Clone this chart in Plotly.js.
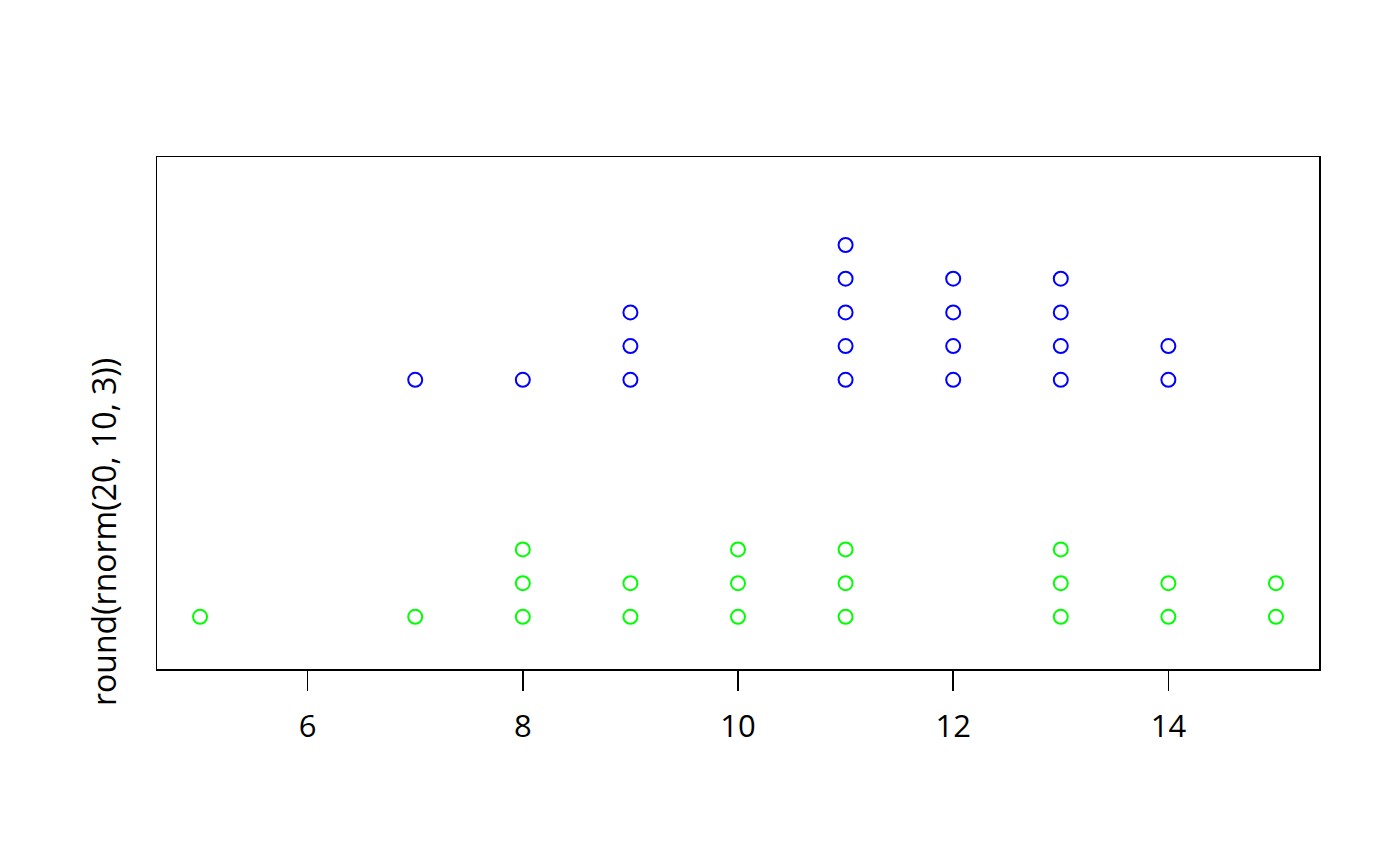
<!DOCTYPE html>
<html>
<head>
<meta charset="utf-8">
<script src="https://cdn.plot.ly/plotly-3.0.1.min.js"></script>
<style>html,body{margin:0;padding:0;background:#fff;}#chart{width:1400px;height:866px;}</style>
</head>
<body>
<div id="chart"></div>
<script>
// Values of each group (stripchart, method = "stack")
const group1Values = [5, 7, 8, 8, 8, 9, 9, 10, 10, 10, 11, 11, 11, 13, 13, 13, 14, 14, 15, 15];
const group2Values = [7, 8, 9, 9, 9, 11, 11, 11, 11, 11, 12, 12, 12, 12, 13, 13, 13, 13, 14, 14];
const groupPositions = [1, 2];
const groupColors = ['#00ff00', '#0000ff'];
const xTicks = [6, 8, 10, 12, 14];
const yLabel = 'round(rnorm(20, 10, 3))';

const stackOffset = 0.1422;

function stack(values, base) {
  const counts = {};
  const ys = [];
  values.forEach(v => {
    const k = counts[v] || 0;
    counts[v] = k + 1;
    ys.push(base + k * stackOffset);
  });
  return ys;
}

const groups = [group1Values, group2Values];
const traces = groups.map((vals, i) => ({
  type: 'scatter',
  mode: 'markers',
  x: vals,
  y: stack(vals, groupPositions[i]),
  marker: { symbol: 'circle-open', size: 14, color: groupColors[i], line: { color: groupColors[i], width: 2 } },
  hoverinfo: 'x',
  showlegend: false
}));

const font = { family: 'Open Sans, Noto Sans, sans-serif', color: '#000' };

const layout = {
  width: 1400, height: 866,
  margin: { l: 157, r: 81, t: 157, b: 197 },
  paper_bgcolor: '#fff', plot_bgcolor: '#fff',
  font: Object.assign({ size: 32 }, font),
  xaxis: {
    range: [4.6, 15.4],
    tickvals: xTicks,
    ticktext: xTicks.map(String),
    ticks: 'outside', ticklen: 20, tickwidth: 1.5, tickcolor: '#000',
    showline: true, mirror: true, linecolor: '#000', linewidth: 1.5,
    showgrid: false, zeroline: false,
    ticklabelstandoff: 9,
    tickfont: Object.assign({ size: 31 }, font)
  },
  yaxis: {
    range: [0.78, 2.94],
    showticklabels: false, ticks: '',
    showline: true, mirror: true, linecolor: '#000', linewidth: 1.5,
    showgrid: false, zeroline: false
  },
  annotations: [{
    text: yLabel, xref: 'paper', yref: 'paper',
    x: -0.0456, y: 0.2676, xanchor: 'center', yanchor: 'middle',
    textangle: -90, showarrow: false,
    font: Object.assign({ size: 32 }, font)
  }]
};

Plotly.newPlot('chart', traces, layout, { displayModeBar: false, staticPlot: true });
</script>
</body>
</html>
